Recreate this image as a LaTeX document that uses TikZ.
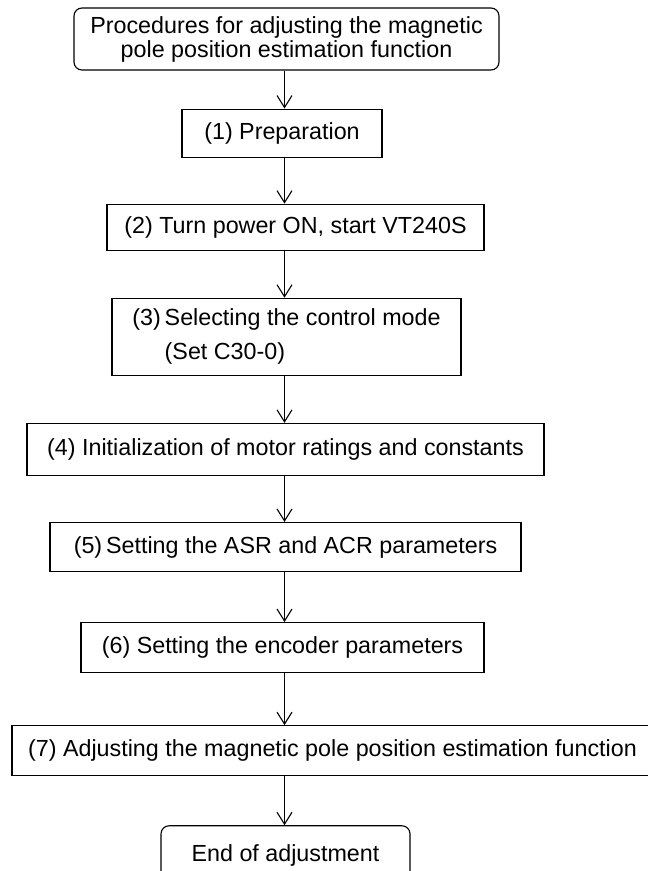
\documentclass[tikz,border=0pt]{standalone}
\usepackage{fontspec}
\setmainfont{Liberation Sans}
\usetikzlibrary{arrows.meta, positioning}

\begin{document}
\begin{tikzpicture}[
    x=1pt, y=1pt,
    box/.style={rectangle, draw, line width=1.1pt, inner sep=0pt, align=center,
                font=\fontsize{23.3pt}{24pt}\selectfont},
    rbox/.style={box, rounded corners=8pt},
    arrow/.style={-{Straight Barb[length=12pt, width=15pt]}, line width=1.1pt}
]
\useasboundingbox (0,0) rectangle (648,871);
\coordinate (axis) at (284.5,0);

\node[rbox, minimum width=425pt, minimum height=62pt] (title) at (286.5,832)
    {Procedures for adjusting the magnetic\\pole position estimation function};
\node[box, minimum width=200pt, minimum height=48pt, below=38pt of title, xshift=-4.5pt] (prep)
    {(1) Preparation};
\node[box, minimum width=377pt, minimum height=46pt, below=46pt of prep, xshift=13.5pt] (power)
    {(2) Turn power ON, start VT240S};
\node[box, minimum width=349pt, minimum height=77pt, below=47pt of power, xshift=-9pt, align=left] (mode)
    {(3)\,Selecting the control mode\\[10pt]\phantom{(3)\,}(Set C30-0)};
\node[box, minimum width=517pt, minimum height=52pt, below=47pt of mode, xshift=-1pt] (init)
    {(4) Initialization of motor ratings and constants};
\node[box, minimum width=471pt, minimum height=49pt, below=46pt of init] (asr)
    {(5)\,Setting the ASR and ACR parameters};
\node[box, minimum width=403pt, minimum height=50pt, below=50pt of asr, xshift=-3pt] (enc)
    {(6) Setting the encoder parameters};
\node[box, minimum width=641pt, minimum height=50pt, below=52pt of enc, xshift=50pt] (pole)
    {(7) Adjusting the magnetic pole position estimation function};
\node[rbox, minimum width=249pt, minimum height=60pt, below=49pt of pole, xshift=-47pt] (done)
    {End of adjustment};

\draw[arrow] (title.south -| axis) -- (prep.north -| axis);
\draw[arrow] (prep.south -| axis) -- (power.north -| axis);
\draw[arrow] (power.south -| axis) -- (mode.north -| axis);
\draw[arrow] (mode.south -| axis) -- (init.north -| axis);
\draw[arrow] (init.south -| axis) -- (asr.north -| axis);
\draw[arrow] (asr.south -| axis) -- (enc.north -| axis);
\draw[arrow] (enc.south -| axis) -- (pole.north -| axis);
\draw[arrow] (pole.south -| axis) -- (done.north -| axis);
\end{tikzpicture}
\end{document}
